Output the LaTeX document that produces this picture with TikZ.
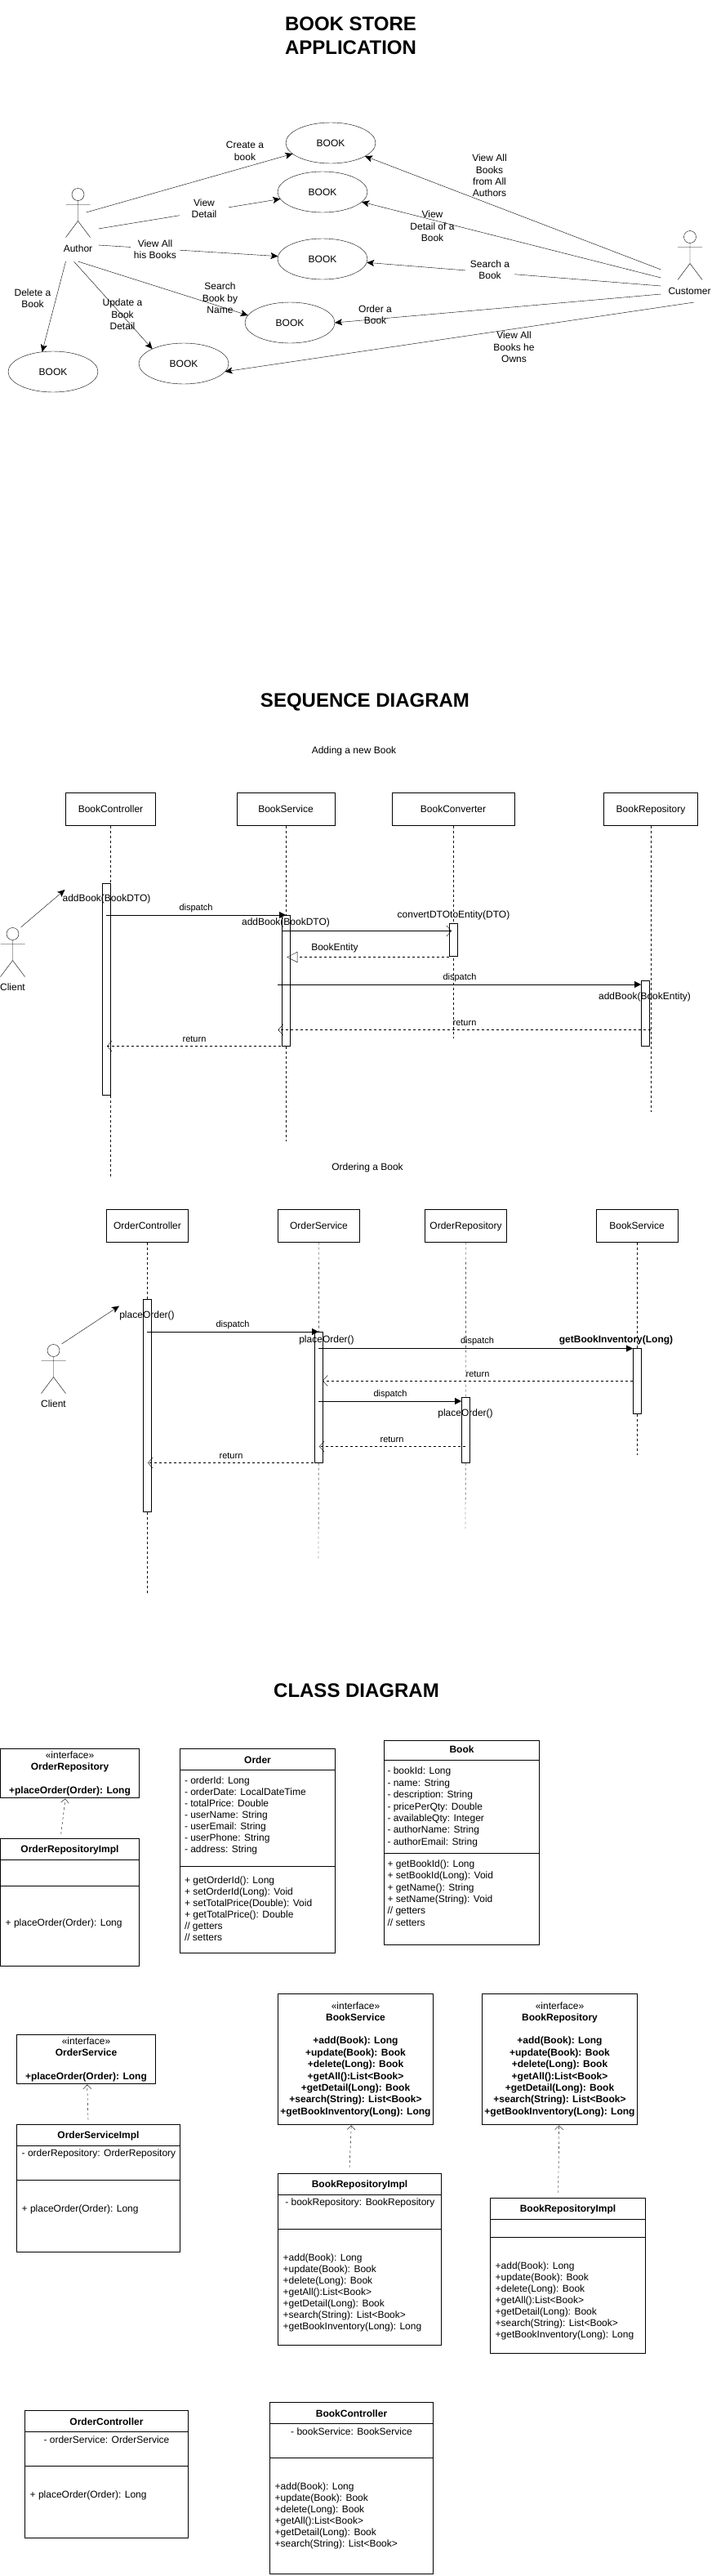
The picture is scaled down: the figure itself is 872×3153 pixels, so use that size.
\documentclass[tikz,border=0pt]{standalone}
\usepackage{fontspec}
\setmainfont{Liberation Sans}
\usetikzlibrary{arrows.meta,shapes.geometric}
\newcommand{\txt}[1]{\fontsize{12}{#1}\selectfont}
\tikzset{
  x=1pt,y=-1pt,
  every node/.style={inner sep=0pt,outer sep=0pt},
  line width=1pt,
  title/.style={font=\fontsize{24}{28.8}\selectfont\bfseries,align=center},
  plain/.style={font=\txt{14.4},align=center},
  small/.style={font=\fontsize{11}{13.2}\selectfont,align=center},
  strong/.style={font=\txt{14.4}\bfseries,align=center},
  stronglist/.style={strong,anchor=base},
  gap/.style={plain,fill=white,minimum width=60pt,minimum height=30pt},
  usecase/.style={ellipse,draw,minimum width=110pt,minimum height=50pt,font=\txt{14.4},text height=8.6pt,text depth=0pt},
  headbox/.style={rectangle,draw,font=\txt{14.4},minimum height=40pt,text height=8.6pt,text depth=0pt},
  bar/.style={rectangle,draw,fill=white,minimum width=10pt},
  life/.style={dash pattern=on 3pt off 3pt},
  usearrow/.style={-{Stealth[length=9pt,width=8pt,inset=2pt]}},
  call/.style={-{Triangle[length=8pt,width=8pt]}},
  sync/.style={-{Straight Barb[length=6pt,width=13pt,round=false]}},
  reply/.style={life,-{Straight Barb[length=6pt,width=13pt,round=false]}},
  hollow/.style={life,-{Triangle[open,length=13pt,width=13pt]}},
  realize/.style={life,-{Straight Barb[length=5pt,width=10pt,round=false]}},
  klass/.style={rectangle,draw,anchor=north west},
  member/.style={font=\txt{14},align=left,anchor=base west},
  memberb/.style={font=\txt{14.4},align=left,anchor=base west},
  actor/.pic={
    \draw (15,7.5) circle[radius=7.5pt];
    \draw (15,15) -- (15,40) (0,20) -- (30,20) (0,60) -- (15,40) -- (30,60);
  }
}
\begin{document}
\begin{tikzpicture}
\useasboundingbox (0,0) rectangle (872,3153);
\fill[white] (0,0) rectangle (872,3153);

%% ---------- USE CASE ----------
\node[title] (t1) at (429.5,43.5) {BOOK STORE\\APPLICATION};
\node[usecase] (e1) at (405,175) {BOOK};
\node[usecase] (e2) at (395,235) {BOOK};
\node[usecase] (e3) at (395,317) {BOOK};
\node[usecase] (e4) at (355,395) {BOOK};
\node[usecase] (e5) at (225,445) {BOOK};
\node[usecase] (e6) at (65,455) {BOOK};

\pic at (80.5,230.5) {actor};
\node[plain] (authorL) at (95.5,304) {Author};
\pic at (830,282.5) {actor};
\node[plain] (customerL) at (844.5,356) {Customer};

\coordinate (a1) at (105.5,260);
\coordinate (a2) at (120.5,280);
\coordinate (a3) at (120.5,300);
\coordinate (a4) at (95.5,320);
\coordinate (a5) at (90.5,320);
\coordinate (a6) at (80.5,320);
\coordinate (c1) at (809.5,330);
\coordinate (c2) at (809.5,340);
\coordinate (c3) at (809.5,350);
\coordinate (c4) at (809.5,360);
\coordinate (c5) at (850,370);

\draw[usearrow] (a1) -- (e1);
\draw[usearrow] (a2) -- (e2);
\draw[usearrow] (a3) -- (e3);
\draw[usearrow] (a4) -- (e4.170);
\draw[usearrow] (a5) -- (e5.155);
\draw[usearrow] (a6) -- (e6.119);
\draw[usearrow] (c1) -- (e1);
\draw[usearrow] (c2) -- (e2);
\draw[usearrow] (c3) -- (e3);
\draw[usearrow] (c4) -- (e4.east);
\draw[usearrow] (c5) -- (e5.-11);

\node[plain] (l1) at (300,185) {Create a\\book};
\node[gap] (l2) at (250,255) {View\\Detail};
\node[gap] (l3) at (190,305) {View All\\his Books};
\node[plain] (l4) at (269.5,365) {Search\\Book by\\Name};
\node[plain] (l5) at (150,385) {Update a\\Book\\Detail};
\node[plain] (l6) at (40,365) {Delete a\\Book};
\node[plain] (l7) at (599.5,215) {View All\\Books\\from All\\Authors};
\node[plain] (l8) at (529.5,277) {View\\Detail of a\\Book};
\node[gap] (l9) at (600,330) {Search a\\Book};
\node[plain] (l10) at (459.5,385) {Order a\\Book};
\node[plain] (l11) at (629.5,425) {View All\\Books he\\Owns};

%% ---------- SEQUENCE 1 ----------
\node[title] (t2) at (447,859.5) {SEQUENCE DIAGRAM};
\node[plain] (s1) at (433.5,919.5) {Adding a new Book};

\node[headbox,minimum width=110pt] (bc) at (135.5,990.5) {BookController};
\node[headbox,minimum width=120pt] (bs) at (350,990.5) {BookService};
\node[headbox,minimum width=150pt] (bv) at (555,990.5) {BookConverter};
\node[headbox,minimum width=115pt] (br) at (797,990.5) {BookRepository};

\coordinate (bcEnd) at (135.5,1440);
\coordinate (bsEnd) at (350,1397);
\coordinate (bvEnd) at (555,1271);
\coordinate (brEnd) at (797,1361);
\draw[life] (bc) -- (bcEnd);
\draw[life] (bs) -- (bsEnd);
\draw[life] (bv) -- (bvEnd);
\draw[life] (br) -- (brEnd);

\node[bar,minimum height=259pt] (bcA) at (130.5,1210.5) {};
\node[bar,minimum height=160pt] (bsA) at (350.5,1200.5) {};
\node[bar,minimum height=40pt] (bvA) at (555.5,1150.5) {};
\node[bar,minimum height=80pt] (brA) at (790.5,1240.5) {};

\pic at (0.5,1135.5) {actor};
\node[plain] (cl1) at (15.5,1208.5) {Client};
\coordinate (cl1s) at (25.5,1135);
\coordinate (cl1e) at (79.5,1089);
\draw[usearrow] (cl1s) -- (cl1e);

\coordinate (m1s) at (130,1120);
\coordinate (m1e) at (350,1120);
\coordinate (m2s) at (346,1139.5);
\coordinate (m2e) at (553,1139.5);
\coordinate (m3s) at (550,1171.5);
\coordinate (m3e) at (351.3,1171.5);
\coordinate (m4s) at (340,1205);
\coordinate (m4e) at (785,1205);
\coordinate (m5s) at (797,1260.5);
\coordinate (m5e) at (340.5,1260.5);
\coordinate (m6s) at (350,1280.5);
\coordinate (m6e) at (131,1280.5);
\draw[call] (m1s) -- (m1e);
\draw[sync] (m2s) -- (m2e);
\draw[hollow] (m3s) -- (m3e);
\draw[call] (m4s) -- (m4e);
\draw[reply] (m5s) -- (m5e);
\draw[reply] (m6s) -- (m6e);

\node[plain] (q1) at (130.5,1100) {addBook(BookDTO)};
\node[small] (q2) at (240,1111.5) {dispatch};
\node[plain] (q3) at (350,1129.5) {addBook(BookDTO)};
\node[plain] (q4) at (555.5,1120) {convertDTOtoEntity(DTO)};
\node[plain] (q5) at (410,1160) {BookEntity};
\node[small] (q6) at (563,1196.5) {dispatch};
\node[plain] (q7) at (789.5,1220) {addBook(BookEntity)};
\node[small] (q8) at (569,1251.5) {return};
\node[small] (q9) at (238,1271.5) {return};

%% ---------- SEQUENCE 2 ----------
\node[plain] (s2) at (450,1429.5) {Ordering a Book};
\node[headbox,minimum width=100pt] (oc) at (180.5,1500.5) {OrderController};
\node[headbox,minimum width=100pt] (os) at (390.5,1500.5) {OrderService};
\node[headbox,minimum width=100pt] (or) at (570.5,1500.5) {OrderRepository};
\node[headbox,minimum width=100pt] (ob) at (780,1500.5) {BookService};

\coordinate (ocEnd) at (180.5,1950);
\coordinate (osEnd) at (390,1908);
\coordinate (orEnd) at (570,1871);
\coordinate (obEnd) at (780,1781);
\draw[life] (oc) -- (ocEnd);
\draw[life] (os) -- (osEnd);
\draw[life] (or) -- (orEnd);
\draw[life] (ob) -- (obEnd);

\node[bar,minimum height=260pt] (ocA) at (180,1720.5) {};
\node[bar,minimum height=160pt] (osA) at (390,1710.5) {};
\node[bar,minimum height=80pt] (orA) at (570,1750.5) {};
\node[bar,minimum height=80pt] (obA) at (780,1690.5) {};

\pic at (50.5,1645.5) {actor};
\node[plain] (cl2) at (65.5,1718.5) {Client};
\coordinate (cl2s) at (75.5,1645);
\coordinate (cl2e) at (146,1598.5);
\draw[usearrow] (cl2s) -- (cl2e);

\coordinate (n1s) at (180,1630);
\coordinate (n1e) at (390,1630);
\coordinate (n2s) at (390,1650.5);
\coordinate (n2e) at (775,1650.5);
\coordinate (n3s) at (775,1690);
\coordinate (n3e) at (395,1690);
\coordinate (n4s) at (390,1715);
\coordinate (n4e) at (565,1715);
\coordinate (n5s) at (570,1770.5);
\coordinate (n5e) at (391,1770.5);
\coordinate (n6s) at (390,1790.5);
\coordinate (n6e) at (181,1790.5);
\draw[call] (n1s) -- (n1e);
\draw[call] (n2s) -- (n2e);
\draw[reply] (n3s) -- (n3e);
\draw[call] (n4s) -- (n4e);
\draw[reply] (n5s) -- (n5e);
\draw[reply] (n6s) -- (n6e);

\node[plain] (r1) at (180,1610) {placeOrder()};
\node[small] (r2) at (285,1621.5) {dispatch};
\node[plain] (r3) at (400,1640) {placeOrder()};
\node[small] (r4) at (584.5,1641.5) {dispatch};
\node[strong] (r5) at (754.5,1640) {getBookInventory(Long)};
\node[small] (r6) at (585,1681.5) {return};
\node[small] (r7) at (478,1706.5) {dispatch};
\node[plain] (r8) at (570,1730) {placeOrder()};
\node[small] (r9) at (480,1761.5) {return};
\node[small] (r10) at (283,1781.5) {return};

%% ---------- CLASS DIAGRAM ----------
\node[title] (t3) at (436.5,2069) {CLASS DIAGRAM};

% OrderRepository
\node[klass,minimum width=170pt,minimum height=60pt] (iOR) at (0.5,2140.5) {};
\node[plain] (iOR1) at (85.5,2148.5) {«interface»};
\node[stronglist] (iOR2) at (85.5,2195.2) {OrderRepository\\[14.4pt]+placeOrder(Order): Long};

% OrderRepositoryImpl
\node[klass,minimum width=170pt,minimum height=156pt] (kOR) at (0.5,2250.5) {};
\draw (kOR.west |- 0,2276.5) -- (kOR.east |- 0,2276.5);
\draw (kOR.west |- 0,2308.5) -- (kOR.east |- 0,2308.5);
\node[strong] (kOR1) at (85.5,2264) {OrderRepositoryImpl};
\node[member] (kOR2) at (6.7,2357.2) {+ placeOrder(Order): Long};
\draw[realize] ([xshift=-10.8pt,yshift=5.5pt]kOR.north) -- ([xshift=-5.5pt,yshift=-1pt]iOR.south);

% Order
\node[klass,minimum width=190pt,minimum height=250pt] (kO) at (220.5,2140.5) {};
\draw (kO.west |- 0,2166.5) -- (kO.east |- 0,2166.5);
\draw (kO.west |- 0,2284.5) -- (kO.east |- 0,2284.5);
\node[strong] (kO1) at (315.5,2154) {Order};
\node[member] (kO2) at (226,2267.5) {- orderId: Long\\- orderDate: LocalDateTime\\- totalPrice: Double\\- userName: String\\- userEmail: String\\- userPhone: String\\- address: String};
\node[member] (kO3) at (226,2375.5) {+ getOrderId(): Long\\+ setOrderId(Long): Void\\+ setTotalPrice(Double): Void\\+ getTotalPrice(): Double\\// getters\\// setters};

% Book
\node[klass,minimum width=190pt,minimum height=250pt] (kB) at (470.5,2130.5) {};
\draw (kB.west |- 0,2154) -- (kB.east |- 0,2154);
\draw (kB.west |- 0,2268) -- (kB.east |- 0,2268);
\node[strong] (kB1) at (565.5,2141) {Book};
\node[memberb] (kB2) at (474.5,2258.2) {- bookId: Long\\- name: String\\- description: String\\- pricePerQty: Double\\- availableQty: Integer\\- authorName: String\\- authorEmail: String};
\node[memberb] (kB3) at (474.5,2357.2) {+ getBookId(): Long\\+ setBookId(Long): Void\\+ getName(): String\\+ setName(String): Void\\// getters\\// setters};

% OrderService
\node[klass,minimum width=170pt,minimum height=60pt] (iOS) at (20.5,2490.5) {};
\node[plain] (iOS1) at (105.5,2498.5) {«interface»};
\node[stronglist] (iOS2) at (105.5,2545.2) {OrderService\\[14.4pt]+placeOrder(Order): Long};

% OrderServiceImpl
\node[klass,minimum width=200pt,minimum height=156pt] (kOS) at (20.5,2600.5) {};
\draw (kOS.west |- 0,2626.5) -- (kOS.east |- 0,2626.5);
\draw (kOS.west |- 0,2668.5) -- (kOS.east |- 0,2668.5);
\node[strong] (kOS1) at (120.5,2614) {OrderServiceImpl};
\node[member] (kOS2) at (26.7,2639.2) {- orderRepository: OrderRepository};
\node[member] (kOS3) at (26.7,2707.2) {+ placeOrder(Order): Long};
\draw[realize] ([xshift=-12.5pt,yshift=5.5pt]kOS.north) -- ([xshift=1.2pt,yshift=-1pt]iOS.south);

% BookService
\node[klass,minimum width=190pt,minimum height=160pt] (iBS) at (340.5,2440.5) {};
\node[plain] (iBS1) at (435.5,2455.5) {«interface»};
\node[stronglist] (iBS2) at (435.5,2588.2) {BookService\\[14.4pt]+add(Book): Long\\+update(Book): Book\\+delete(Long): Book\\+getAll():List<Book>\\+getDetail(Long): Book\\+search(String): List<Book>\\+getBookInventory(Long): Long};

% BookRepository
\node[klass,minimum width=190pt,minimum height=160pt] (iBR) at (590.5,2440.5) {};
\node[plain] (iBR1) at (685.5,2455.5) {«interface»};
\node[stronglist] (iBR2) at (685.5,2588.2) {BookRepository\\[14.4pt]+add(Book): Long\\+update(Book): Book\\+delete(Long): Book\\+getAll():List<Book>\\+getDetail(Long): Book\\+search(String): List<Book>\\+getBookInventory(Long): Long};

% BookRepositoryImpl (left)
\node[klass,minimum width=200pt,minimum height=210pt] (kBS) at (340.5,2660.5) {};
\draw (kBS.west |- 0,2686.5) -- (kBS.east |- 0,2686.5);
\draw (kBS.west |- 0,2728.5) -- (kBS.east |- 0,2728.5);
\node[strong] (kBS1) at (440.5,2674) {BookRepositoryImpl};
\node[member] (kBS2) at (349.3,2699.5) {- bookRepository: BookRepository};
\node[member] (kBS3) at (346.7,2851.2) {+add(Book): Long\\+update(Book): Book\\+delete(Long): Book\\+getAll():List<Book>\\+getDetail(Long): Book\\+search(String): List<Book>\\+getBookInventory(Long): Long};
\draw[realize] ([xshift=-12.5pt,yshift=7.2pt]kBS.north) -- ([xshift=-5.2pt,yshift=-1pt]iBS.south);

% BookRepositoryImpl (right)
\node[klass,minimum width=190pt,minimum height=190pt] (kBR) at (600.5,2690.5) {};
\draw (kBR.west |- 0,2716.5) -- (kBR.east |- 0,2716.5);
\draw (kBR.west |- 0,2738.5) -- (kBR.east |- 0,2738.5);
\node[strong] (kBR1) at (695.5,2704) {BookRepositoryImpl};
\node[member] (kBR2) at (606.7,2861.2) {+add(Book): Long\\+update(Book): Book\\+delete(Long): Book\\+getAll():List<Book>\\+getDetail(Long): Book\\+search(String): List<Book>\\+getBookInventory(Long): Long};
\draw[realize] ([xshift=-11.8pt,yshift=6.5pt]kBR.north) -- ([xshift=-0.8pt,yshift=-1pt]iBR.south);

% OrderController
\node[klass,minimum width=200pt,minimum height=156pt] (kOC) at (30.5,2950.5) {};
\draw (kOC.west |- 0,2976.5) -- (kOC.east |- 0,2976.5);
\draw (kOC.west |- 0,3018.5) -- (kOC.east |- 0,3018.5);
\node[strong] (kOC1) at (130.5,2964) {OrderController};
\node[plain] (kOC2) at (130.5,2986) {- orderService: OrderService};
\node[member] (kOC3) at (36.7,3057.5) {+ placeOrder(Order): Long};

% BookController
\node[klass,minimum width=200pt,minimum height=210pt] (kBC) at (330.5,2940.5) {};
\draw (kBC.west |- 0,2966.5) -- (kBC.east |- 0,2966.5);
\draw (kBC.west |- 0,3008.5) -- (kBC.east |- 0,3008.5);
\node[strong] (kBC1) at (430.5,2954) {BookController};
\node[plain] (kBC2) at (430.5,2976) {- bookService: BookService};
\node[member] (kBC3) at (336.7,3117.2) {+add(Book): Long\\+update(Book): Book\\+delete(Long): Book\\+getAll():List<Book>\\+getDetail(Long): Book\\+search(String): List<Book>};
\end{tikzpicture}
\end{document}
